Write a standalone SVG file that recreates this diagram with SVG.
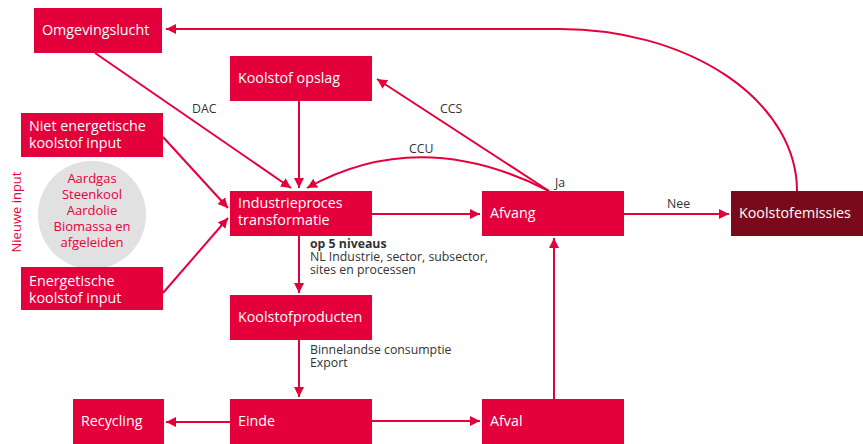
<svg xmlns="http://www.w3.org/2000/svg" width="863" height="444" viewBox="0 0 863 444">
<defs>
<marker id="ah" viewBox="0 0 10 10" refX="10" refY="5" markerWidth="10" markerHeight="10" markerUnits="userSpaceOnUse" orient="auto">
<path d="M0,0 L10,5 L0,10 Z" fill="#e4003b"/>
</marker>
</defs>
<style>
.box{fill:#e4003b}
.dark{fill:#7a0a1b}
.nt{font-family:"Open Sans","Liberation Sans",sans-serif;font-size:14.3px;fill:#ffffff}
.lbl{font-family:"Open Sans","Liberation Sans",sans-serif;font-size:12.3px;fill:#333333}
.cl{font-family:"Open Sans","Liberation Sans",sans-serif;font-size:13px;fill:#e4003b;text-anchor:middle}
.ln{fill:none;stroke:#e4003b;stroke-width:2;marker-end:url(#ah)}
</style>
<rect width="863" height="444" fill="#ffffff"/>
<g id="connectors">
<path class="ln" d="M797,191 A237,162 0 0 0 560,29 L166,29"/>
<path class="ln" d="M95,53 L291,188"/>
<path class="ln" d="M299,101 L299,188"/>
<path class="ln" d="M549,191 Q420,125 307,188"/>
<path class="ln" d="M549,191 L377,79"/>
<path class="ln" d="M163,137 L228,208"/>
<path class="ln" d="M163,293 L228,218"/>
<path class="ln" d="M372,214 L480,214"/>
<path class="ln" d="M624,214 L729,214"/>
<path class="ln" d="M299,236 L299,293"/>
<path class="ln" d="M299,340 L299,397"/>
<path class="ln" d="M230,422 L166,422"/>
<path class="ln" d="M372,421 L480,421"/>
<path class="ln" d="M554,399 L554,238"/>
<text class="lbl" x="192" y="113">DAC</text>
<text class="lbl" x="440" y="113">CCS</text>
<text class="lbl" x="409" y="153">CCU</text>
<text class="lbl" x="555" y="187">Ja</text>
<text class="lbl" x="667" y="208">Nee</text>
<text class="lbl" x="310" y="248" font-weight="bold">op 5 niveaus</text>
<text class="lbl" x="310" y="261">NL Industrie, sector, subsector,</text>
<text class="lbl" x="310" y="274">sites en processen</text>
<text class="lbl" x="310" y="354">Binnelandse consumptie</text>
<text class="lbl" x="310" y="367">Export</text>
</g>
<g id="omgevingslucht"><rect class="box" x="34" y="8" width="128" height="45"/><text class="nt" x="42" y="35">Omgevingslucht</text></g>
<g id="koolstof-opslag"><rect class="box" x="230" y="56" width="142" height="45"/><text class="nt" x="238" y="83">Koolstof opslag</text></g>
<g id="niet-energetisch"><rect class="box" x="21" y="113" width="142" height="44"/><text class="nt" x="29" y="131">Niet energetische</text><text class="nt" x="29" y="148">koolstof input</text></g>
<g id="nieuwe-input">
<circle cx="92" cy="215" r="54" fill="#e1e1e1"/>
<text class="cl" x="92" y="183">Aardgas</text>
<text class="cl" x="92" y="199">Steenkool</text>
<text class="cl" x="92" y="215">Aardolie</text>
<text class="cl" x="92" y="231">Biomassa en</text>
<text class="cl" x="92" y="247">afgeleiden</text>
<text class="cl" x="0" y="0" font-size="15" transform="translate(21,212) rotate(-90)">Nieuwe input</text>
</g>
<g id="energetisch"><rect class="box" x="21" y="267" width="142" height="43"/><text class="nt" x="29" y="286">Energetische</text><text class="nt" x="29" y="303">koolstof input</text></g>
<g id="industrieproces"><rect class="box" x="230" y="191" width="142" height="45"/><text class="nt" x="238" y="208">Industrieproces</text><text class="nt" x="238" y="225">transformatie</text></g>
<g id="afvang"><rect class="box" x="482" y="191" width="142" height="45"/><text class="nt" x="490" y="218">Afvang</text></g>
<g id="koolstofemissies"><rect class="dark" x="731" y="191" width="132" height="45"/><text class="nt" x="739" y="218">Koolstofemissies</text></g>
<g id="koolstofproducten"><rect class="box" x="230" y="295" width="142" height="45"/><text class="nt" x="238" y="322">Koolstofproducten</text></g>
<g id="einde"><rect class="box" x="230" y="399" width="142" height="45"/><text class="nt" x="238" y="426">Einde</text></g>
<g id="recycling"><rect class="box" x="73" y="399" width="91" height="45"/><text class="nt" x="81" y="426">Recycling</text></g>
<g id="afval"><rect class="box" x="482" y="399" width="142" height="45"/><text class="nt" x="490" y="426">Afval</text></g>
</svg>
